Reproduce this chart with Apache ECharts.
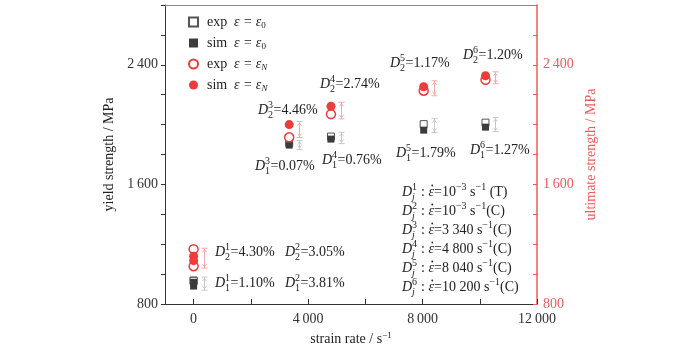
<!DOCTYPE html>
<html><head><meta charset="utf-8">
<script src="https://cdn.jsdelivr.net/npm/echarts@6/dist/echarts.min.js"></script>
<style>html,body{margin:0;padding:0;background:#fff}#c{width:700px;height:345px}</style>
</head><body><div id="c"></div>
<script>
// ---- data ----
const strainRate = [0, 0, 3340, 4800, 8040, 10200];
const expYield = [957, 955, 1877, 1920, 2003, 2013];
const simYield = [945, 920, 1863, 1903, 1963, 1983];
const expUlt = [1167, 1053, 1915, 2070, 2227, 2300];
const simUlt = [1120, 1090, 2000, 2123, 2253, 2327];
const errX = [0, 3340, 4800, 8040, 10200];
const errYieldLow = [893, 1833, 1873, 1947, 1953];
const errYieldHigh = [980, 1893, 1949, 2040, 2047];
const errUltLow = [1040, 1913, 2038, 2193, 2273];
const errUltHigh = [1173, 2020, 2149, 2293, 2353];
const xTicks = [0, 2000, 4000, 6000, 8000, 10000, 12000];
const xTickLabels = [0, 4000, 8000, 12000];
const yTickLabels = [800, 1600, 2400];
const seriesNames = ['exp ε = ε0', 'sim ε = ε0', 'exp ε = εN', 'sim ε = εN'];
const devSup = ['1', '2', '1', '2', '3', '4', '3', '4', '5', '5', '6', '6'];
const devSub = ['2', '2', '1', '1', '2', '2', '1', '1', '2', '1', '2', '1'];
const devVal = ['4.30%', '3.05%', '1.10%', '3.81%', '4.46%', '2.74%', '0.07%', '0.76%', '1.17%', '1.79%', '1.20%', '1.27%'];
const rateJ = ['1', '2', '3', '4', '5', '6'];
const rateVal = ['10', '10', '3 340', '4 800', '8 040', '10 200'];
const rateExp = ['−3', '−3', '', '', '', ''];
const rateMode = [' (T)', '(C)', '(C)', '(C)', '(C)', '(C)'];

// ---- layout (pixels) ----
const devPos = [[215,252],[285,252],[215,283],[285,283],[258,110],[320,84],[255,166],[322,160],[390,63],[396,153],[463,55],[470,150]];
const ratePos = { x: 402, y0: 192, dy: 19 };

const FONT = '"Liberation Serif", "Times New Roman", serif';
const BLACK = '#222';
const GRAY = '#3c3c3c';
const RED = '#ee3b3b';
const AXRED = '#f25a5a';
const PINK = '#f6a9a9';
const LGRAY = '#c8c8c8';

const ctx = document.createElement('canvas').getContext('2d');
function tw(t, size, italic) { ctx.font = (italic ? 'italic ' : '') + size + 'px ' + FONT; return ctx.measureText(t).width; }
function txt(x, y, t, size, italic, color) {
  return { type: 'text', x: x, y: y, silent: true, style: { text: t, fontSize: size, fontFamily: FONT, fontStyle: italic ? 'italic' : 'normal', fill: color, verticalAlign: 'middle', align: 'left' } };
}
function line(x, y, segs, color) {
  const ch = []; let cx = 0;
  segs.forEach(s => {
    if (s.stack) {
      ch.push(txt(cx, -5, s.sup, 10, s.supI, color));
      ch.push(txt(cx, 5, s.sub, 10, s.subI, color));
      cx += Math.max(tw(s.sup, 10, s.supI), tw(s.sub, 10, s.subI)) + 0.5;
    } else if (s.sup !== undefined) {
      ch.push(txt(cx, -5, s.sup, 10, s.i, color)); cx += tw(s.sup, 10, s.i);
    } else if (s.dot) {
      const w = tw(s.dot, 14, true);
      ch.push(txt(cx, 0, s.dot, 14, true, color));
      ch.push({ type: 'circle', silent: true, shape: { cx: cx + w / 2 + 1, cy: -6.5, r: 0.9 }, style: { fill: color } });
      cx += w;
    } else {
      ch.push(txt(cx, 0, s.t, 14, s.i, color)); cx += tw(s.t, 14, s.i);
    }
  });
  return { type: 'group', x: x, y: y, children: ch };
}

const graphics = [];
devVal.forEach((v, i) => {
  graphics.push(line(devPos[i][0], devPos[i][1], [
    { t: 'D', i: true }, { stack: true, sup: devSup[i], sub: devSub[i] }, { t: '=' + v }
  ], BLACK));
});
rateJ.forEach((j, i) => {
  const segs = [{ t: 'D', i: true }, { stack: true, sup: j, sub: 'j', subI: true }, { t: ' : ' }, { dot: 'ε' }, { t: '=' + rateVal[i] }];
  if (rateExp[i]) segs.push({ sup: rateExp[i] });
  segs.push({ t: ' s' }, { sup: '−1' }, { t: rateMode[i] });
  graphics.push(line(ratePos.x, ratePos.y0 + i * ratePos.dy, segs, BLACK));
});

const fmt = v => String(v).replace(/\B(?=(\d{3})+(?!\d))/g, '\u2009');

function errRender(color) {
  return function (params, api) {
    const x = api.value(0), lo = api.value(1), hi = api.value(2);
    const a = api.coord([x, hi]), b = api.coord([x, lo]);
    const px = Math.round(a[0] + 10) + 0.5, top = a[1], bot = b[1];
    const st = { stroke: color, lineWidth: 1, fill: null };
    return { type: 'group', children: [
      { type: 'line', shape: { x1: px, y1: top, x2: px, y2: bot }, style: st },
      { type: 'line', shape: { x1: px - 3, y1: top, x2: px + 3, y2: top }, style: st },
      { type: 'line', shape: { x1: px - 3, y1: bot, x2: px + 3, y2: bot }, style: st },
      { type: 'polyline', shape: { points: [[px - 2, top + 4], [px, top + 1.5], [px + 2, top + 4]] }, style: st },
      { type: 'polyline', shape: { points: [[px - 2, bot - 4], [px, bot - 1.5], [px + 2, bot - 4]] }, style: st }
    ] };
  };
}

const richBase = { fontFamily: FONT, fontSize: 14, color: BLACK, lineHeight: 16 };
const chart = echarts.init(document.getElementById('c'), null, { renderer: 'canvas' });
chart.setOption({
  animation: false,
  backgroundColor: '#fff',
  grid: { left: 165, right: 163, top: 5, bottom: 41, containLabel: false, outerBoundsMode: 'none' },
  legend: {
    data: seriesNames, orient: 'vertical', left: 183, top: 10, itemWidth: 9, itemHeight: 9, itemGap: 6,
    selectedMode: false,
    textStyle: { padding: [0, 0, 0, 4], rich: {
      n: richBase,
      i: Object.assign({}, richBase, { fontStyle: 'italic' }),
      s: { fontFamily: FONT, fontSize: 9, color: BLACK, lineHeight: 10, verticalAlign: 'bottom' },
      si: { fontFamily: FONT, fontSize: 9, color: BLACK, lineHeight: 10, verticalAlign: 'bottom', fontStyle: 'italic' }
    } },
    formatter: name => {
      const p = name.split(' ');
      const sub = name.endsWith('0') ? '{s|0}' : '{si|N}';
      return '{n|' + p[0] + '}  {i|ε = ε}' + sub;
    }
  },
  xAxis: [{
    type: 'value', min: -1000, max: 12000, position: 'bottom',
    axisLine: { show: true, onZero: false, lineStyle: { color: '#333', width: 1 } },
    axisTick: { show: true, inside: true, length: 5, customValues: xTicks, lineStyle: { color: '#333' } },
    axisLabel: { customValues: xTickLabels, formatter: fmt, fontFamily: FONT, fontSize: 14, color: '#333', margin: 8 },
    splitLine: { show: false },
    name: '{a|strain rate / s}{b|−1}', nameLocation: 'middle', nameGap: 21,
    nameTextStyle: { rich: { a: richBase, b: { fontFamily: FONT, fontSize: 9, color: BLACK, lineHeight: 10, verticalAlign: 'top' } } }
  }, {
    type: 'value', min: -1000, max: 12000, position: 'top',
    axisLine: { show: true, onZero: false, lineStyle: { color: '#888', width: 1 } },
    axisTick: { show: false }, axisLabel: { show: false }, splitLine: { show: false }
  }],
  yAxis: [{
    type: 'value', min: 800, max: 2800, interval: 200, position: 'left',
    axisLine: { show: true, onZero: false, lineStyle: { color: '#333', width: 1 } },
    axisTick: { show: true, inside: false, length: 4, lineStyle: { color: '#333' } },
    axisLabel: { customValues: yTickLabels, formatter: fmt, fontFamily: FONT, fontSize: 14, color: '#333', margin: 7 },
    splitLine: { show: false },
    name: 'yield strength / MPa', nameLocation: 'middle', nameGap: 40, nameRotate: 90,
    nameTextStyle: { fontFamily: FONT, fontSize: 14, color: BLACK }
  }, {
    type: 'value', min: 800, max: 2800, interval: 200, position: 'right',
    axisLine: { show: true, onZero: false, lineStyle: { color: AXRED, width: 1.5 } },
    axisTick: { show: true, inside: true, length: 4, lineStyle: { color: AXRED } },
    axisLabel: { customValues: yTickLabels, formatter: fmt, fontFamily: FONT, fontSize: 14, color: AXRED, margin: 6 },
    splitLine: { show: false },
    name: 'ultimate strength / MPa', nameLocation: 'middle', nameGap: 43, nameRotate: 90,
    nameTextStyle: { fontFamily: FONT, fontSize: 14, color: AXRED }
  }],
  series: [
    { type: 'custom', name: 'errYield', xAxisIndex: 0, yAxisIndex: 0, renderItem: errRender(LGRAY), encode: { x: 0, y: [1, 2] },
      data: errX.map((x, i) => [x, errYieldLow[i], errYieldHigh[i]]), z: 1, silent: true },
    { type: 'custom', name: 'errUlt', xAxisIndex: 0, yAxisIndex: 1, renderItem: errRender(PINK), encode: { x: 0, y: [1, 2] },
      data: errX.map((x, i) => [x, errUltLow[i], errUltHigh[i]]), z: 1, silent: true },
    { type: 'scatter', name: seriesNames[0], yAxisIndex: 0, symbol: 'rect', symbolSize: 7,
      itemStyle: { color: '#fff', borderColor: '#555', borderWidth: 1, opacity: 1 },
      data: strainRate.map((x, i) => [x, expYield[i]]), z: 2 },
    { type: 'scatter', name: seriesNames[1], yAxisIndex: 0, symbol: 'rect', symbolSize: 7,
      itemStyle: { color: GRAY, opacity: 1 },
      data: strainRate.map((x, i) => [x, simYield[i]]), z: 3 },
    { type: 'scatter', name: seriesNames[2], yAxisIndex: 1, symbol: 'circle', symbolSize: 9,
      itemStyle: { color: '#fff', borderColor: RED, borderWidth: 1.5, opacity: 1 },
      data: strainRate.map((x, i) => [x, expUlt[i]]), z: 4 },
    { type: 'scatter', name: seriesNames[3], yAxisIndex: 1, symbol: 'circle', symbolSize: 9,
      itemStyle: { color: RED, opacity: 1 },
      data: strainRate.map((x, i) => [x, simUlt[i]]), z: 5 }
  ],
  graphic: graphics
});
</script></body></html>
